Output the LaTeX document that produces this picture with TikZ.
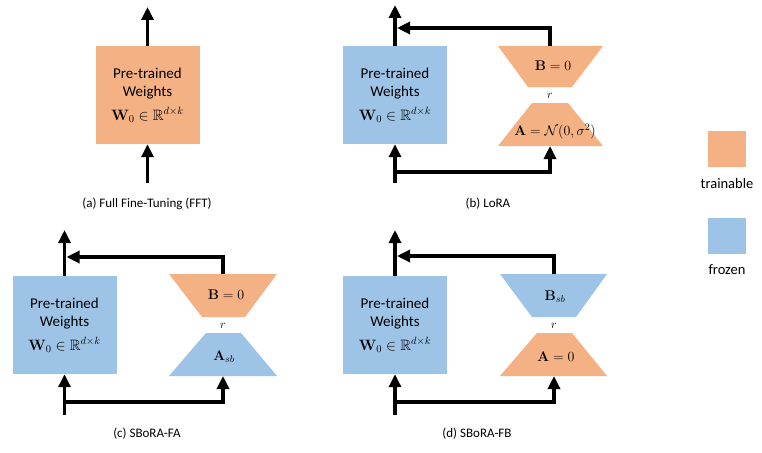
\RequirePackage{fix-cm}
\documentclass[tikz,border=0pt]{standalone}
\usepackage{amssymb}
\usepackage[no-math]{fontspec}
\setmainfont{Carlito}
\usetikzlibrary{arrows.meta}
\definecolor{trainC}{HTML}{F4B183}
\definecolor{frozC}{HTML}{9DC3E6}
\begin{document}
\begin{tikzpicture}[x=1pt,y=-1pt,
  conn/.style={line width=3.2pt},
  arr/.style={conn,-{Triangle[width=12pt,length=13pt]}},
  wbox/.style={minimum width=104pt, minimum height=98pt, inner sep=0pt, align=center,
    font=\fontsize{15}{18}\selectfont},
  tlabel/.style={font=\fontsize{14}{16}\selectfont, inner sep=0pt},
  rlabel/.style={font=\fontsize{12}{13}\selectfont, inner sep=0pt},
  caplabel/.style={font=\fontsize{13}{15}\selectfont, inner sep=0pt},
  leglabel/.style={font=\fontsize{14.5}{16}\selectfont, inner sep=0pt},
  legsq/.style={minimum width=38pt, minimum height=36pt, inner sep=0pt}
]
\useasboundingbox (0,0) rectangle (762,452);
\fill[white] (0,0) rectangle (762,452);

\newcommand{\wtext}{Pre-trained\\Weights\\[6pt]$\mathbf{W}_0\in\mathbb{R}^{d\times k}$}

% ---------- (a) ----------
\node[wbox, fill=trainC] (Wa) at (147.5,95) {\wtext};
\coordinate (outa) at (147.5,7);
\coordinate (ina) at (147.5,183);
\draw[arr] (Wa.north) -- (outa);
\draw[arr] (ina) -- (Wa.south);
\node[caplabel] (capa) at (147,204) {(a) Full Fine-Tuning (FFT)};

% ---------- (b) ----------
\node[wbox, fill=frozC] (Wb) at (395,95) {\wtext};
\fill[trainC] (498,46) -- (603,46) -- (572,87) -- (528,87) -- cycle;
\fill[trainC] (532,103) -- (568,103) -- (603,146) -- (498,146) -- cycle;
\node[tlabel] (Bb) at (553,66) {$\mathbf{B}=0$};
\node[tlabel] (Ab) at (555,132) {$\mathbf{A}=\mathcal{N}(0,\sigma^2)$};
\node[rlabel] (rb) at (550,96) {$r$};
\coordinate (Bbtop) at (550,46);
\coordinate (Abbot) at (550,146);
\coordinate (outb) at (395,5);
\coordinate (fbb) at (397,28);
\coordinate (inb) at (395,183);
\coordinate (brb) at (395,172);
\draw[arr] (Wb.north) -- (outb);
\draw[arr] (Bbtop) |- (fbb);
\draw[arr] (inb) -- (Wb.south);
\draw[arr] (brb) -| (Abbot);
\node[caplabel] (capb) at (488,204) {(b) LoRA};

% ---------- (c) ----------
\node[wbox, fill=frozC] (Wc) at (64.5,325) {\wtext};
\fill[trainC] (169,274) -- (277,274) -- (245,317) -- (202,317) -- cycle;
\fill[frozC] (206,333) -- (241,333) -- (277,376) -- (169,376) -- cycle;
\node[tlabel] (Bc) at (226,295) {$\mathbf{B}=0$};
\node[tlabel] (Ac) at (224,357) {$\mathbf{A}_{sb}$};
\node[rlabel] (rc) at (223,326) {$r$};
\coordinate (Bctop) at (223,274);
\coordinate (Acbot) at (223,376);
\coordinate (outc) at (64.5,230);
\coordinate (fbc) at (66.5,257);
\coordinate (inc) at (64.5,415);
\coordinate (brc) at (64.5,402);
\draw[arr] (Wc.north) -- (outc);
\draw[arr] (Bctop) |- (fbc);
\draw[arr] (inc) -- (Wc.south);
\draw[arr] (brc) -| (Acbot);
\node[caplabel] (capc) at (147,434) {(c) SBoRA-FA};

% ---------- (d) ----------
\node[wbox, fill=frozC] (Wd) at (395,325) {\wtext};
\fill[frozC] (500,274) -- (607,274) -- (576,317) -- (532,317) -- cycle;
\fill[trainC] (537,333) -- (572,333) -- (607,376) -- (500,376) -- cycle;
\node[tlabel] (Bd) at (555,297) {$\mathbf{B}_{sb}$};
\node[tlabel] (Ad) at (556,357) {$\mathbf{A}=0$};
\node[rlabel] (rd) at (554,326) {$r$};
\coordinate (Bdtop) at (554,274);
\coordinate (Adbot) at (554,376);
\coordinate (outd) at (395,230);
\coordinate (fbd) at (397,256);
\coordinate (ind) at (395,415);
\coordinate (brd) at (395,402);
\draw[arr] (Wd.north) -- (outd);
\draw[arr] (Bdtop) |- (fbd);
\draw[arr] (ind) -- (Wd.south);
\draw[arr] (brd) -| (Adbot);
\node[caplabel] (capd) at (477,434) {(d) SBoRA-FB};

% ---------- legend ----------
\node[legsq, fill=trainC] (legT) at (727,149) {};
\node[leglabel] (legTl) at (727,184) {trainable};
\node[legsq, fill=frozC] (legF) at (727,235.5) {};
\node[leglabel] (legFl) at (727,270) {frozen};
\end{tikzpicture}
\end{document}
